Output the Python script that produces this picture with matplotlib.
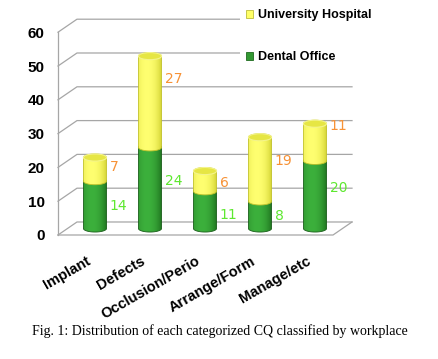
import matplotlib.pyplot as plt
import numpy as np
from matplotlib.patches import Polygon, Ellipse, Patch
from matplotlib.colors import to_rgb

categories = ['Implant', 'Defects', 'Occlusion/Perio', 'Arrange/Form', 'Manage/etc']
dental_office = [14, 24, 11, 8, 20]
university_hospital = [7, 27, 6, 19, 11]
y_ticks = [0, 10, 20, 30, 40, 50, 60]

# where the data labels sit relative to the middle of their segment (value units)
dental_nudge = [-0.3, 2.1, -1.5, -0.3, 2.0]
univ_nudge = [0.7, 6.7, -0.5, 2.5, 4.8]

DX = 0.345   # depth of the box, category units
DY = 3.85    # depth of the box, value units
W = 0.21     # half width of a cylinder
EH = 1.05    # half height of the ellipses

plt.rcParams['font.family'] = 'Liberation Sans'

fig = plt.figure(figsize=(4.39, 3.59), dpi=100)
ax = fig.add_axes([58 / 439, 124 / 359, 294 / 439, 215.8 / 359])
n = len(categories)
grid_c = '#a6a6a6'


def shade(dark, light, k=64):
    t = np.linspace(0, 1, k)
    f = np.clip(1 - ((t - 0.38) / 0.62) ** 2, 0, 1) ** 0.8
    d = np.array(to_rgb(dark))
    l = np.array(to_rgb(light))
    return (d + (l - d) * f[:, None])[None, :, :]


def cylinder(cx, y0, y1, dark, light, edge, z):
    a = np.linspace(np.pi, 2 * np.pi, 40)
    lower = np.c_[cx + W * np.cos(a), y0 + EH * np.sin(a)]
    b = np.linspace(0, np.pi, 40)
    upper = np.c_[cx + W * np.cos(b), y1 + EH * np.sin(b)]
    poly = Polygon(np.vstack([lower, upper]), closed=True, facecolor='none',
                   edgecolor=edge, lw=0.6, zorder=z + 0.1, clip_on=False)
    ax.add_patch(poly)
    im = ax.imshow(shade(dark, light), extent=[cx - W, cx + W, y0 - EH, y1 + EH],
                   aspect='auto', zorder=z, interpolation='bilinear')
    im.set_clip_path(poly)
    im.set_clip_on(True)


# walls and floor
for v in y_ticks:
    ax.plot([-0.5, -0.5 + DX, n - 0.5 + DX], [v, v + DY, v + DY],
            color=grid_c, lw=0.9, zorder=1, clip_on=False)
ax.plot([-0.5, -0.5], [0, y_ticks[-1]], color=grid_c, lw=0.9, zorder=1, clip_on=False)
ax.plot([-0.5, n - 0.5, n - 0.5 + DX], [0, 0, DY], color=grid_c, lw=0.9, zorder=1, clip_on=False)

base = DY / 2
for i in range(n):
    cx = i + DX / 2
    d = dental_office[i]
    u = university_hospital[i]
    cylinder(cx, base, base + d, '#1d6e1d', '#3cb03c', '#1a5e1a', 3)
    cylinder(cx, base + d, base + d + u, '#cfcf2e', '#ffff70', '#c2c22a', 4)
    ax.add_patch(Ellipse((cx, base + d + u), 2 * W, 2 * EH, facecolor='#e6e644',
                         edgecolor='#f4f48c', lw=0.8, zorder=5, clip_on=False))
    ax.text(cx + W + 0.06, base + d / 2 + dental_nudge[i], str(d), color='#5ee830',
            fontsize=10, family='DejaVu Sans', ha='left', va='center', zorder=6)
    ax.text(cx + W + 0.06, base + d + u / 2 + univ_nudge[i], str(u), color='#f79236',
            fontsize=10, family='DejaVu Sans', ha='left', va='center', zorder=6)
    ax.text(i + 0.07, -7.4, categories[i], rotation=30, rotation_mode='anchor',
            ha='right', va='center', fontsize=10.5, fontweight='bold', clip_on=False)

ax.set_xlim(-0.5, n - 0.5 + DX)
ax.set_ylim(0, y_ticks[-1] + DY)
ax.set_xticks([])
ax.set_yticks(y_ticks)
ax.set_yticklabels([str(v) for v in y_ticks], fontweight='bold', fontsize=11)
ax.tick_params(axis='y', length=0, pad=9.5)
for s in ax.spines.values():
    s.set_visible(False)
ax.patch.set_visible(False)

handles = [Patch(facecolor='#ffff66', edgecolor='#bdbd3a', lw=0.6),
           Patch(facecolor='#339933', edgecolor='#1f6b1f', lw=0.6)]
fig.legend(handles, ['University Hospital', 'Dental Office'], loc='upper left',
           bbox_to_anchor=(240 / 439, 1 - 3 / 359), bbox_transform=fig.transFigure,
           borderaxespad=0, frameon=True, facecolor='white', edgecolor='none',
           framealpha=1, fancybox=False, borderpad=0.5, handlelength=0.55,
           handleheight=0.55, handletextpad=0.35, labelspacing=2.4,
           prop={'weight': 'bold', 'size': 9})

fig.text(0.501, 0.078, 'Fig. 1: Distribution of each categorized CQ classified by workplace',
         family='Liberation Serif', fontsize=10, ha='center', va='center')

fig.savefig('out.png', dpi=100)
